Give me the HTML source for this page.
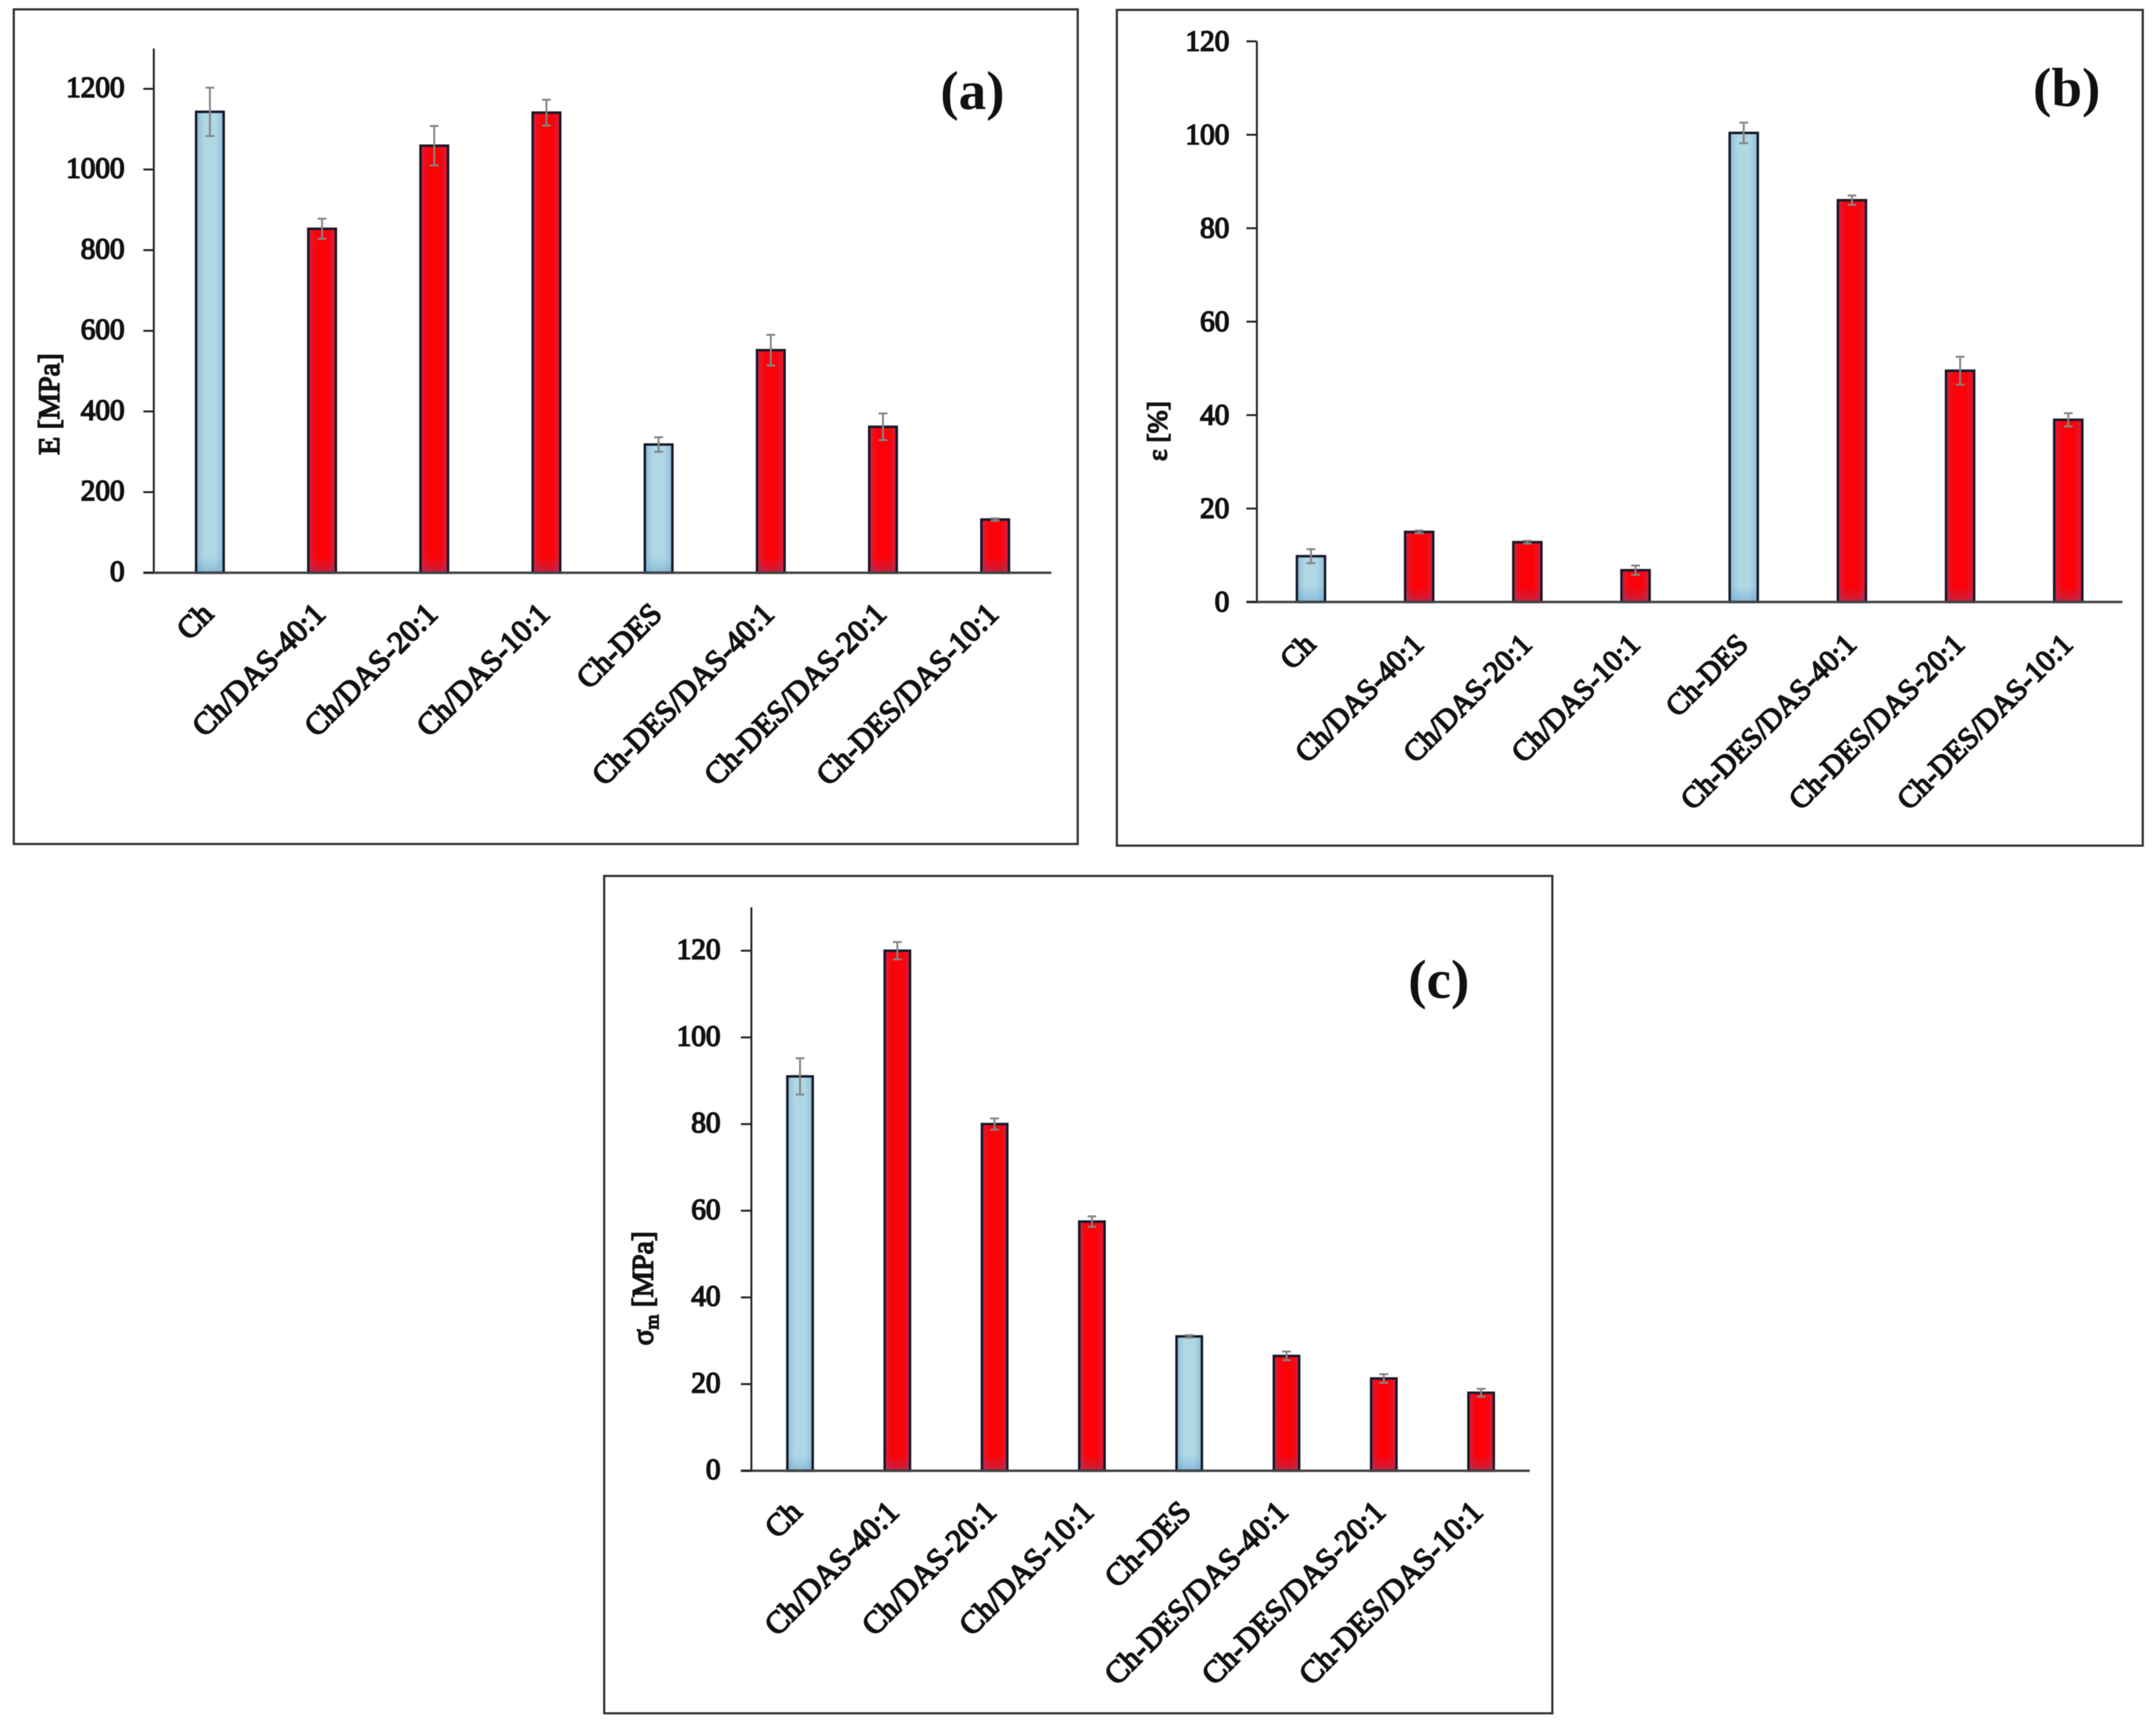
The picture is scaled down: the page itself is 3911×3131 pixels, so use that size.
<!DOCTYPE html>
<html lang="en">
<head>
<meta charset="utf-8">
<title>Mechanical properties of chitosan films</title>
<style>
html,body{margin:0;padding:0;background:#fff;}
svg{display:block;}
text{font-family:"Liberation Serif","DejaVu Serif",serif;font-weight:normal;fill:#111;stroke:#111;stroke-width:2.6px;}
text.panel-letter{font-weight:bold;stroke:none;}
</style>
</head>
<body>
<svg id="figure" xmlns="http://www.w3.org/2000/svg" width="3911" height="3131" viewBox="0 0 3911 3131" style="filter:blur(0.8px)">
<defs>
<linearGradient id="blue-side" x1="0" x2="1" y1="0" y2="0">
<stop offset="0" stop-color="#8dbcd9"/><stop offset="0.3" stop-color="#b0d7e4"/><stop offset="0.7" stop-color="#b0d7e4"/><stop offset="1" stop-color="#8dbcd9"/>
</linearGradient>
<linearGradient id="red-side" x1="0" x2="1" y1="0" y2="0">
<stop offset="0" stop-color="#d61f3c"/><stop offset="0.3" stop-color="#fb0208"/><stop offset="0.7" stop-color="#fb0208"/><stop offset="1" stop-color="#d61f3c"/>
</linearGradient>
<linearGradient id="blue-bottom" x1="0" x2="0" y1="0" y2="1">
<stop offset="0" stop-color="#5f9fd0" stop-opacity="0"/><stop offset="1" stop-color="#5f9fd0" stop-opacity="0.5"/>
</linearGradient>
<linearGradient id="red-bottom" x1="0" x2="0" y1="0" y2="1">
<stop offset="0" stop-color="#7a4a8a" stop-opacity="0"/><stop offset="1" stop-color="#7a4a8a" stop-opacity="0.4"/>
</linearGradient>
</defs>
</svg>
<script>
const categories = ["Ch","Ch/DAS-40:1","Ch/DAS-20:1","Ch/DAS-10:1","Ch-DES","Ch-DES/DAS-40:1","Ch-DES/DAS-20:1","Ch-DES/DAS-10:1"];
const barGroups = ["blue","red","red","red","blue","red","red","red"];

const modulusValues = [1143,853,1059,1141,318,552,362,132];
const modulusErrors = [60,25,49,32,18,38,33,3];
const modulusTicks = [0,200,400,600,800,1000,1200];

const elongationValues = [9.8,15,12.8,6.8,100.4,86,49.5,39];
const elongationErrors = [1.5,0.3,0.3,1,2.2,1,3,1.4];
const elongationTicks = [0,20,40,60,80,100,120];

const strengthValues = [91,120,80,57.5,31,26.5,21.3,18];
const strengthErrors = [4.2,2,1.3,1.2,0.3,1,1,0.9];
const strengthTicks = [0,20,40,60,80,100,120];

const NS = "http://www.w3.org/2000/svg";
const root = document.getElementById("figure");

function make(tag, parent, attrs, text) {
  const el = document.createElementNS(NS, tag);
  for (const k in attrs) el.setAttribute(k, attrs[k]);
  if (text !== undefined) el.textContent = text;
  parent.appendChild(el);
  return el;
}

function drawPanel(cfg, values, errors, ticks) {
  const g = make("g", root, {});
  
  

  const frame = make("rect", g, {x:cfg.frame[0], y:cfg.frame[1], width:cfg.frame[2]-cfg.frame[0], height:cfg.frame[3]-cfg.frame[1], fill:"#fff", stroke:"#333", "stroke-width":4});
  
  

  const yScale = v => cfg.y0 - (v / cfg.yMax) * (cfg.y0 - cfg.yTop);
  const band = (cfg.xEnd - cfg.x0) / categories.length;
  const xScale = i => cfg.x0 + band * (i + 0.5);

  categories.forEach((name, i) => {
    const x = xScale(i);
    const top = yScale(values[i]);
    const w = cfg.barWidth;
    const h = cfg.y0 - top;
    const fillRect = make("rect", g, {x:x-w/2, y:top, width:w, height:h, fill:"url(#" + barGroups[i] + "-side)"});
    
    

    const shadeH = Math.min(28, h);
    const shade = make("rect", g, {x:x-w/2, y:cfg.y0-shadeH, width:w, height:shadeH, fill:"url(#" + barGroups[i] + "-bottom)"});
    
    

    const bar = make("rect", g, {x:x-w/2, y:top, width:w, height:h, fill:"none", stroke:"#16192a", "stroke-width":4.5});
    
    

    const hi = yScale(values[i] + errors[i]);
    const lo = yScale(values[i] - errors[i]);
    const err = make("path", g, {d:"M"+(x-8)+" "+hi+"H"+(x+8)+"M"+x+" "+hi+"V"+lo+"M"+(x-8)+" "+lo+"H"+(x+8), fill:"none", stroke:"#858585", "stroke-width":3.5});
    
    

    const lx = x + cfg.labelDx;
    const ly = cfg.y0 + cfg.labelDy;
    const label = make("text", g, {x:lx, y:ly, "text-anchor":"end", "font-size":cfg.labelSize, transform:"rotate(-45 "+lx+" "+ly+")"}, name);
    
    
  });

  const yAxis = make("line", g, {x1:cfg.x0, x2:cfg.x0, y1:cfg.yTop2, y2:cfg.y0, stroke:"#222", "stroke-width":3.5});
  
  

  const xAxis = make("line", g, {x1:cfg.x0-19, x2:cfg.xEnd, y1:cfg.y0, y2:cfg.y0, stroke:"#444", "stroke-width":4.5});
  
  

  ticks.forEach(t => {
    const y = yScale(t);
    const tick = make("line", g, {x1:cfg.x0-19, x2:cfg.x0, y1:y, y2:y, stroke:"#222", "stroke-width":3.5});
    
    
    const tl = make("text", g, {x:cfg.x0+cfg.tickDx, y:y+cfg.tickDy, "text-anchor":"end", "font-size":53}, String(t));
    
    
  });

  const tx = cfg.title[0], ty = cfg.title[1];
  const title = make("text", g, {x:tx, y:ty, "text-anchor":"middle", "font-size":cfg.titleSize, transform:"rotate(-90 "+tx+" "+ty+")"});
  
  
  const sym = make("tspan", title, {}, cfg.symbol);
  
  
  if (cfg.sub) {
    const sub = make("tspan", title, {"font-size":34, dy:10}, cfg.sub);
    
    
    const rest = make("tspan", title, {dy:-10}, " [MPa]");
    
    
  } else {
    const rest = make("tspan", title, {}, " " + cfg.unit);
    
    
  }

  const tag = make("text", g, {class:"panel-letter", x:cfg.tag[0], y:cfg.tag[1], "text-anchor":"middle", "font-size":100}, "(" + cfg.id + ")");
  
  
}

drawPanel({id:"a", frame:[25,17,1955,1531], x0:279, xEnd:1907, y0:1039, yTop:88, yTop2:88, yMax:1300, barWidth:50, labelDx:9, labelDy:78, labelSize:56.5, tickDx:-53, tickDy:15, title:[107,733], titleSize:54, symbol:"E", unit:"[MPa]", tag:[1764,198]}, modulusValues, modulusErrors, modulusTicks);

drawPanel({id:"b", frame:[2026,18,3887,1534], x0:2280, xEnd:3850, y0:1092, yTop:75, yTop2:75, yMax:120, barWidth:51, labelDx:11, labelDy:80, labelSize:54.5, tickDx:-50, tickDy:17, title:[2116,782], titleSize:50, symbol:"\u03B5", unit:"[%]", tag:[3749,192]}, elongationValues, elongationErrors, elongationTicks);

drawPanel({id:"c", frame:[1096,1589,2816,3108], x0:1363, xEnd:2775, y0:2668, yTop:1646, yTop2:1646, yMax:130, barWidth:46, labelDx:6, labelDy:78, labelSize:57, tickDx:-56, tickDy:15, title:[1184,2337], titleSize:54, symbol:"\u03C3", sub:"m", tag:[2610,1810]}, strengthValues, strengthErrors, strengthTicks);
</script>
</body>
</html>
